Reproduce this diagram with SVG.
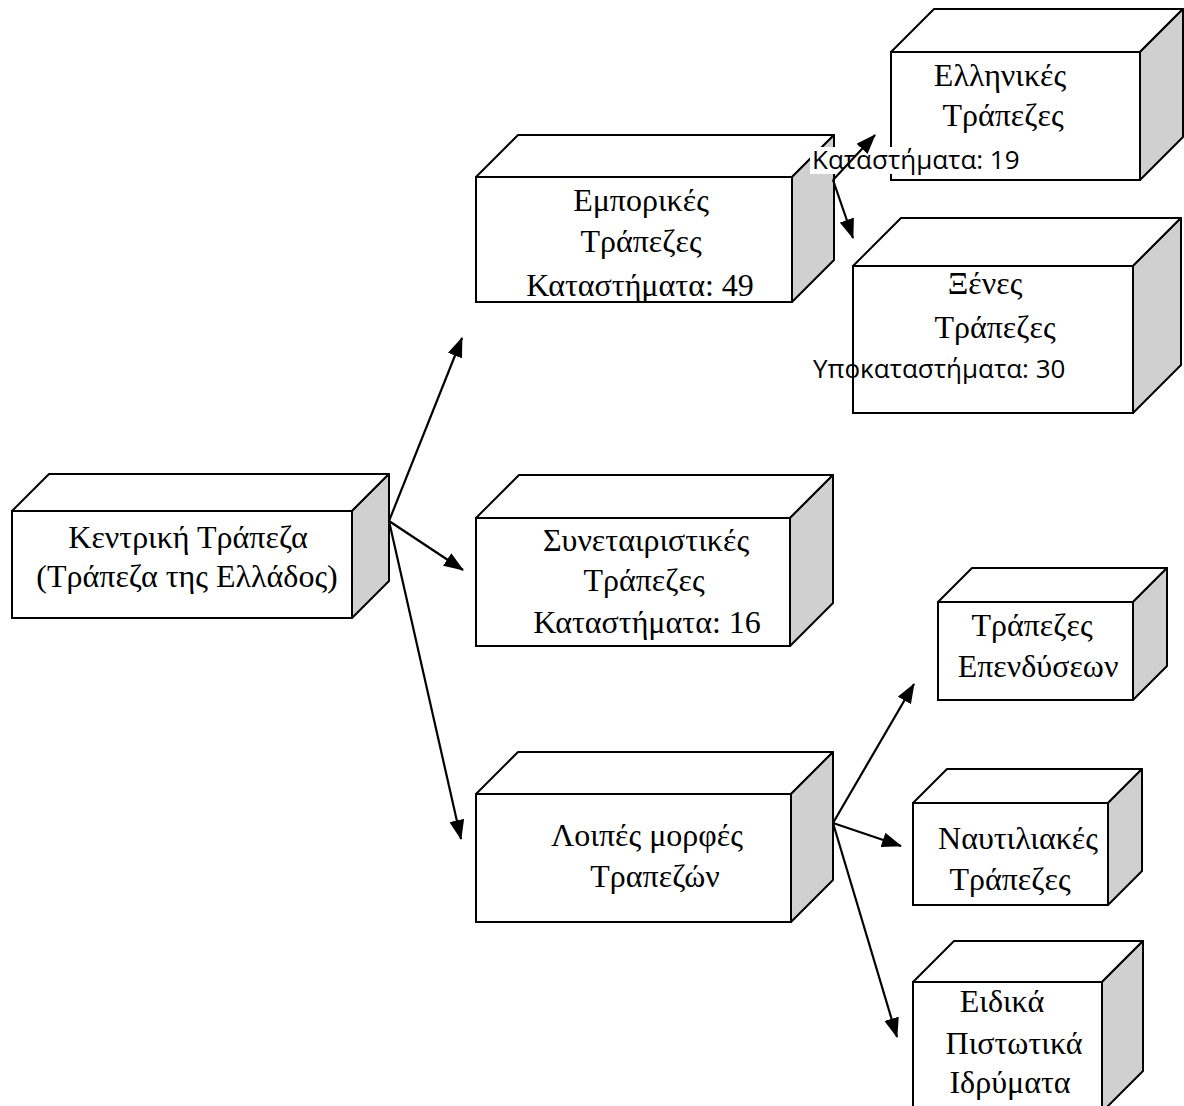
<svg xmlns="http://www.w3.org/2000/svg" width="1184" height="1106" viewBox="0 0 1184 1106">
<style>
.front{fill:#fff;stroke:#000;stroke-width:2}
.top{fill:#fff;stroke:#000;stroke-width:2;stroke-linejoin:round}
.side{fill:#d0d0d0;stroke:#000;stroke-width:2;stroke-linejoin:round}
.t{font-family:"Liberation Serif","Times New Roman",serif;font-size:32px;fill:#000;text-anchor:middle}
.s{font-family:"Open Sans","Liberation Sans",sans-serif;font-size:26px;fill:#000}
.conn line{stroke:#000;stroke-width:2.2;marker-end:url(#ah)}
</style>
<defs>
<marker id="ah" markerUnits="userSpaceOnUse" markerWidth="20" markerHeight="15" refX="19" refY="7.5" orient="auto">
<path d="M0,0 L20,7.5 L0,15 z" fill="#000"/>
</marker>
</defs>
<rect width="1184" height="1106" fill="#fff"/>

<g id="kentriki">
<polygon class="top" points="12,511 49,474 389,474 352,511"/>
<polygon class="side" points="352,511 389,474 389,581 352,618"/>
<rect class="front" x="12" y="511" width="340" height="107"/>
<text class="t" x="188" y="548">Κεντρική Τράπεζα</text>
<text class="t" x="187" y="587">(Τράπεζα της Ελλάδος)</text>
</g>

<g id="emporikes">
<polygon class="top" points="476,177 518,135 834,135 792,177"/>
<polygon class="side" points="792,177 834,135 834,260 792,302"/>
<rect class="front" x="476" y="177" width="316" height="125"/>
<text class="t" x="641" y="211">Εμπορικές</text>
<text class="t" x="641" y="252">Τράπεζες</text>
<text class="t" x="640" y="296">Καταστήματα: 49</text>
</g>

<g id="ellinikes">
<polygon class="top" points="891,52 934,9 1183,9 1140,52"/>
<polygon class="side" points="1140,52 1183,9 1183,137 1140,180"/>
<rect class="front" x="891" y="52" width="249" height="128"/>
<text class="t" x="1000" y="86">Ελληνικές</text>
<text class="t" x="1003" y="126">Τράπεζες</text>
<rect x="810" y="147" width="214" height="27" fill="#fff"/>
<text class="s" x="812" y="169">Καταστήματα: 19</text>
</g>

<g id="xenes">
<polygon class="top" points="853,266 901,218 1181,218 1133,266"/>
<polygon class="side" points="1133,266 1181,218 1181,365 1133,413"/>
<rect class="front" x="853" y="266" width="280" height="147"/>
<text class="t" x="985" y="294">Ξένες</text>
<text class="t" x="995" y="338">Τράπεζες</text>
<text class="s" x="813" y="378">Υποκαταστήματα: 30</text>
</g>

<g id="synetairistikes">
<polygon class="top" points="476,518 519,475 833,475 790,518"/>
<polygon class="side" points="790,518 833,475 833,603 790,646"/>
<rect class="front" x="476" y="518" width="314" height="128"/>
<text class="t" x="646" y="551">Συνεταιριστικές</text>
<text class="t" x="644" y="591">Τράπεζες</text>
<text class="t" x="647" y="633">Καταστήματα: 16</text>
</g>

<g id="loipes">
<polygon class="top" points="476,794 518,752 833,752 791,794"/>
<polygon class="side" points="791,794 833,752 833,880 791,922"/>
<rect class="front" x="476" y="794" width="315" height="128"/>
<text class="t" x="647" y="846">Λοιπές μορφές</text>
<text class="t" x="655" y="887">Τραπεζών</text>
</g>

<g id="ependyseon">
<polygon class="top" points="938,602 972,568 1167,568 1133,602"/>
<polygon class="side" points="1133,602 1167,568 1167,666 1133,700"/>
<rect class="front" x="938" y="602" width="195" height="98"/>
<text class="t" x="1032" y="636">Τράπεζες</text>
<text class="t" x="1038" y="677">Επενδύσεων</text>
</g>

<g id="naftiliakes">
<polygon class="top" points="913,803 947,769 1142,769 1108,803"/>
<polygon class="side" points="1108,803 1142,769 1142,871 1108,905"/>
<rect class="front" x="913" y="803" width="195" height="102"/>
<text class="t" x="1018" y="849">Ναυτιλιακές</text>
<text class="t" x="1010" y="890">Τράπεζες</text>
</g>

<g id="eidika">
<polygon class="top" points="913,982 954,941 1143,941 1102,982"/>
<polygon class="side" points="1102,982 1143,941 1143,1071 1102,1112"/>
<rect class="front" x="913" y="982" width="189" height="140"/>
<text class="t" x="1002" y="1012">Ειδικά</text>
<text class="t" x="1014" y="1054">Πιστωτικά</text>
<text class="t" x="1010" y="1093">Ιδρύματα</text>
</g>

<g id="connectors" class="conn">
<line x1="389" y1="521" x2="462" y2="338"/>
<line x1="389" y1="521" x2="463" y2="570"/>
<line x1="389" y1="521" x2="461" y2="839"/>
<line x1="833" y1="180" x2="875" y2="135"/>
<line x1="833" y1="180" x2="853" y2="238"/>
<line x1="833" y1="823" x2="914" y2="684"/>
<line x1="833" y1="823" x2="901" y2="846"/>
<line x1="833" y1="823" x2="897" y2="1037"/>
</g>
</svg>
